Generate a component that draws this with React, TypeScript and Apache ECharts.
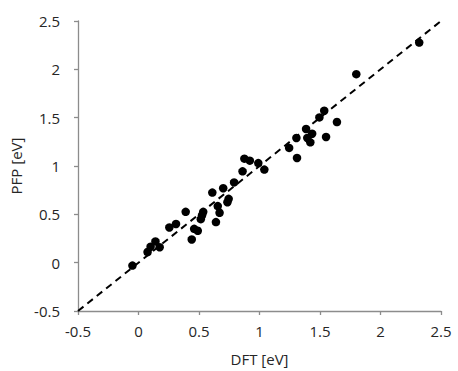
import React, { useEffect, useRef } from "react";
import * as echarts from "echarts";

const dftValues = [
  -0.05, 0.075, 0.1, 0.14, 0.175, 0.255, 0.31, 0.39, 0.44, 0.46, 0.49, 0.515, 0.525, 0.535,
  0.61, 0.64, 0.655, 0.67, 0.7, 0.735, 0.745, 0.79, 0.86, 0.875, 0.92, 0.99, 1.04,
  1.245, 1.305, 1.31, 1.385, 1.395, 1.42, 1.435, 1.495, 1.535, 1.55, 1.64, 1.8, 2.32,
];
const pfpValues = [
  -0.03, 0.11, 0.165, 0.22, 0.16, 0.364, 0.4, 0.526, 0.24, 0.35, 0.33, 0.45, 0.49, 0.526,
  0.725, 0.42, 0.585, 0.516, 0.77, 0.625, 0.66, 0.83, 0.945, 1.076, 1.055, 1.03, 0.963,
  1.187, 1.29, 1.083, 1.383, 1.29, 1.245, 1.334, 1.503, 1.572, 1.3, 1.455, 1.95, 2.277,
];
const parityLine = [
  [-0.5, -0.5],
  [2.5, 2.5],
];
const xTitle = "DFT [eV]";
const yTitle = "PFP [eV]";

export default function App() {
  const ref = useRef<HTMLDivElement>(null);
  useEffect(() => {
    if (!ref.current) return;
    const chart = echarts.init(ref.current, null, { renderer: "svg" });
    const font = "'Open Sans', 'Noto Sans', sans-serif";
    const axisCommon = {
      min: -0.5,
      max: 2.5,
      interval: 0.5,
      splitLine: { show: false },
      axisLine: { show: true, onZero: false, lineStyle: { color: "#8c8c8c", width: 1.3 } },
      axisTick: { show: true, length: 4, lineStyle: { color: "#8c8c8c", width: 1.3 } },
      axisLabel: { color: "#262626", fontSize: 15, fontFamily: font },
      nameLocation: "middle" as const,
      nameTextStyle: { color: "#262626", fontSize: 15, fontFamily: font },
    };
    chart.setOption({
      animation: false,
      backgroundColor: "#ffffff",
      grid: { left: 70, right: 17, top: 21, bottom: 59, containLabel: false },
      xAxis: {
        type: "value",
        ...axisCommon,
        name: xTitle,
        nameGap: 40,
        axisLabel: { ...axisCommon.axisLabel, margin: 12 },
      },
      yAxis: {
        type: "value",
        ...axisCommon,
        name: yTitle,
        nameGap: 55,
        axisLabel: { ...axisCommon.axisLabel, margin: 18 },
      },
      series: [
        {
          type: "line",
          data: parityLine,
          symbol: "none",
          lineStyle: { color: "#000000", width: 2, type: [7, 5] },
          z: 1,
        },
        {
          type: "scatter",
          data: dftValues.map((x, i) => [x, pfpValues[i]]),
          symbol: "circle",
          symbolSize: 8.5,
          itemStyle: { color: "#000000", opacity: 1 },
          z: 2,
        },
      ],
    });
    return () => chart.dispose();
  }, []);
  return (
    <div
      ref={ref}
      style={{ position: "fixed", left: 0, top: 0, width: 458, height: 371 }}
    />
  );
}
